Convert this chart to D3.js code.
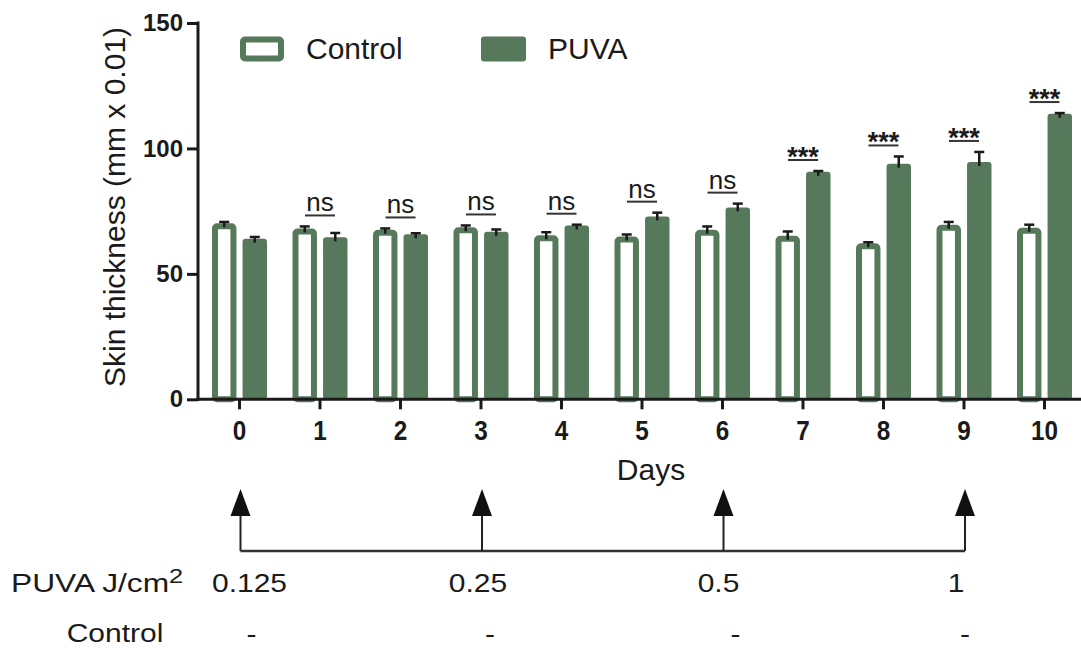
<!DOCTYPE html>
<html>
<head>
<meta charset="utf-8">
<script src="https://cdn.jsdelivr.net/npm/d3@7"></script>
<style>
  body { margin: 0; background: #fff; }
  text { font-family: Arial, "Liberation Sans", sans-serif; fill: #1a1a1a; }
</style>
</head>
<body>
<script>
// data (skin thickness, mm x 0.01)
const days = [0, 1, 2, 3, 4, 5, 6, 7, 8, 9, 10];
const controlMean = [70.2, 68.1, 67.6, 68.6, 65.4, 64.9, 67.6, 65.2, 62.2, 69.6, 68.4];
const controlSem  = [0.5, 0.8, 0.5, 0.7, 1.2, 0.8, 1.3, 1.7, 0.4, 1.1, 1.2];
const puvaMean    = [64.0, 64.6, 65.8, 66.8, 69.3, 72.9, 76.5, 90.7, 93.9, 94.6, 113.8];
const puvaSem     = [0.7, 1.7, 0.4, 0.9, 0.3, 1.5, 1.5, 0.3, 2.9, 4.0, 0.3];
const significance = [null, "ns", "ns", "ns", "ns", "ns", "ns", "***", "***", "***", "***"];
const yTicks = [0, 50, 100, 150];
const groups = ["Control", "PUVA"];

// treatment schedule below the chart
const doseDays = [0, 3, 6, 9];
const puvaDose = ["0.125", "0.25", "0.5", "1"];
const controlDose = ["-", "-", "-", "-"];

const green = "#56795b";
const ink = "#1a1a1a";

const svg = d3.select("body").append("svg")
    .attr("width", 1081)
    .attr("height", 648);

const y = d3.scaleLinear().domain([0, 150]).range([399.3, 23]);

const x = d3.scaleBand()
    .domain(days)
    .range([199.25, 1084.75])
    .paddingInner(0.317)
    .paddingOuter(0.1585);

const sub = d3.scaleBand()
    .domain(groups)
    .range([0, x.bandwidth()])
    .paddingInner(0.2);

const rows = days.map((d, i) => ({
    day: d,
    c: controlMean[i], ce: controlSem[i],
    p: puvaMean[i], pe: puvaSem[i],
    sig: significance[i]
}));

// bars
const g = svg.append("g");
const sw = 6;
g.selectAll(".ctrl")
    .data(rows)
    .enter()
    .append("rect")
    .attr("x", d => x(d.day) + sub("Control") + sw / 2)
    .attr("y", d => y(d.c) + sw / 2)
    .attr("width", sub.bandwidth() - sw)
    .attr("height", d => y(0) - y(d.c) - sw / 2)
    .attr("rx", 2)
    .attr("fill", "#fff")
    .attr("stroke", green)
    .attr("stroke-width", sw);

g.selectAll(".puva")
    .data(rows)
    .enter()
    .append("rect")
    .attr("x", d => x(d.day) + sub("PUVA"))
    .attr("y", d => y(d.p))
    .attr("width", sub.bandwidth())
    .attr("height", d => y(0) - y(d.p))
    .attr("rx", 3)
    .attr("fill", green);

// error bars (upper half only)
const errs = [];
rows.forEach(d => {
    errs.push({ cx: x(d.day) + sub("Control") + sub.bandwidth() / 2, m: d.c, e: d.ce });
    errs.push({ cx: x(d.day) + sub("PUVA") + sub.bandwidth() / 2, m: d.p, e: d.pe });
});
const eb = g.selectAll(".err").data(errs).enter().append("g")
    .attr("stroke", ink).attr("stroke-width", 2.5);
eb.append("line")
    .attr("x1", d => d.cx).attr("x2", d => d.cx)
    .attr("y1", d => y(d.m) + 4).attr("y2", d => y(d.m + d.e));
eb.append("line")
    .attr("x1", d => d.cx - 5).attr("x2", d => d.cx + 5)
    .attr("y1", d => y(d.m + d.e)).attr("y2", d => y(d.m + d.e));

// significance marks
const sig = g.selectAll(".sig").data(rows.filter(d => d.sig)).enter().append("g")
    .attr("transform", d => {
        const top = Math.min(y(d.c + d.ce), y(d.p + d.pe)) - 11;
        return `translate(${x(d.day) + x.bandwidth() / 2},${top})`;
    });
sig.append("line")
    .attr("x1", -15).attr("x2", 15)
    .attr("stroke", "#333").attr("stroke-width", 2);
sig.append("text")
    .attr("text-anchor", "middle")
    .attr("y", d => d.sig === "ns" ? -4 : 6)
    .attr("font-size", d => d.sig === "ns" ? 26 : 27)
    .attr("font-weight", d => d.sig === "ns" ? "normal" : "bold")
    .text(d => d.sig);

// axes
const yAxis = svg.append("g")
    .attr("transform", "translate(198,0)")
    .call(d3.axisLeft(y).tickValues(yTicks).tickSize(11).tickPadding(4));
yAxis.select(".domain").remove();
yAxis.selectAll("line").attr("stroke", ink).attr("stroke-width", 3);
yAxis.selectAll("text")
    .attr("font-size", 24).attr("font-weight", "bold")
    .attr("font-family", "Arial, 'Liberation Sans', sans-serif").attr("fill", ink);

const xAxis = svg.append("g")
    .attr("transform", `translate(0,${y(0)})`)
    .call(d3.axisBottom(x).tickSize(10).tickSizeOuter(0).tickPadding(12));
xAxis.select(".domain").remove();
xAxis.selectAll("line").attr("stroke", ink).attr("stroke-width", 3);
xAxis.selectAll("text")
    .attr("font-size", 27).attr("font-weight", "bold")
    .attr("transform", "scale(0.9,1)")
    .attr("font-family", "Arial, 'Liberation Sans', sans-serif").attr("fill", ink);

svg.append("line")
    .attr("x1", 198).attr("x2", 198)
    .attr("y1", y(150) - 1.5).attr("y2", y(0) + 1.5)
    .attr("stroke", ink).attr("stroke-width", 3);
svg.append("line")
    .attr("x1", 196.5).attr("x2", 1081)
    .attr("y1", y(0)).attr("y2", y(0))
    .attr("stroke", ink).attr("stroke-width", 3);

// axis titles
svg.append("text")
    .attr("transform", "translate(125,207) rotate(-90)")
    .attr("text-anchor", "middle")
    .attr("font-size", 30)
    .text("Skin thickness (mm x 0.01)");

svg.append("text")
    .attr("x", 651).attr("y", 480)
    .attr("text-anchor", "middle")
    .attr("font-size", 30)
    .text("Days");

// legend
const legend = svg.append("g");
legend.append("rect")
    .attr("x", 240 + sw / 2).attr("y", 36.5 + sw / 2)
    .attr("width", 44 - sw).attr("height", 25 - sw)
    .attr("rx", 2)
    .attr("fill", "#fff").attr("stroke", green).attr("stroke-width", sw);
legend.append("text").attr("x", 306).attr("y", 59).attr("font-size", 30).text("Control");
legend.append("rect")
    .attr("x", 481).attr("y", 36.5)
    .attr("width", 45).attr("height", 25)
    .attr("rx", 3)
    .attr("fill", green);
legend.append("text").attr("x", 548).attr("y", 59).attr("font-size", 30).text("PUVA");

// treatment schedule
const cx = d => x(d) + x.bandwidth() / 2 + 1;
const sched = svg.append("g");
sched.append("line")
    .attr("x1", cx(doseDays[0])).attr("x2", cx(doseDays[doseDays.length - 1]))
    .attr("y1", 551).attr("y2", 551)
    .attr("stroke", "#333").attr("stroke-width", 2.5);
sched.selectAll(".stem").data(doseDays).enter().append("line")
    .attr("x1", cx).attr("x2", cx)
    .attr("y1", 551).attr("y2", 512)
    .attr("stroke", "#222").attr("stroke-width", 2);
sched.selectAll(".head").data(doseDays).enter().append("path")
    .attr("d", d => `M${cx(d)},489 L${cx(d) + 10},516 L${cx(d) - 10},516 Z`)
    .attr("fill", "#111");

const doseShift = [9, -4, -5, -9];
const dashShift = [11, 8, 12, 0];
const sx = 1.2;

sched.selectAll(".dose").data(puvaDose).enter().append("text")
    .attr("transform", (d, i) => `translate(${cx(doseDays[i]) + doseShift[i]},592) scale(${sx},1)`)
    .attr("text-anchor", "middle")
    .attr("font-size", 25)
    .text(d => d);

sched.selectAll(".ctrlDose").data(controlDose).enter().append("text")
    .attr("transform", (d, i) => `translate(${cx(doseDays[i]) + dashShift[i]},643) scale(${sx},1)`)
    .attr("text-anchor", "middle")
    .attr("font-size", 25)
    .text(d => d);

const puvaLabel = sched.append("text")
    .attr("transform", "translate(11,592) scale(1.27,1)")
    .attr("font-size", 25);
puvaLabel.append("tspan").text("PUVA J/cm");
puvaLabel.append("tspan").attr("dy", -9).attr("font-size", 20).text("2");

sched.append("text")
    .attr("transform", `translate(115,642) scale(${sx},1)`)
    .attr("text-anchor", "middle")
    .attr("font-size", 25)
    .text("Control");
</script>
</body>
</html>
